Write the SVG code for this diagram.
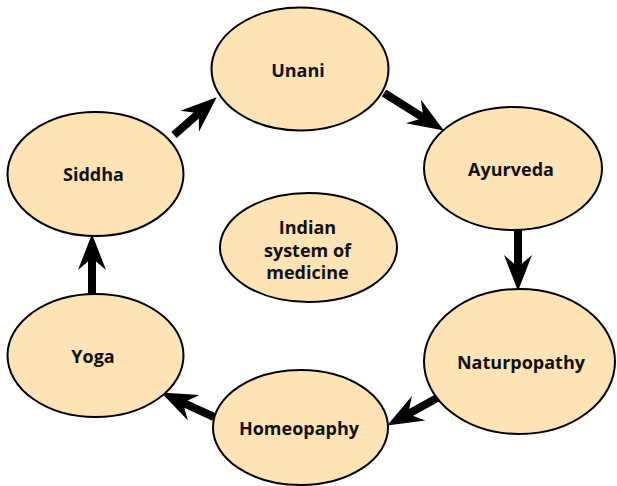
<svg xmlns="http://www.w3.org/2000/svg" width="617" height="486" viewBox="0 0 617 486">
<style>
.node ellipse{fill:#FDE3B5;stroke:#000;stroke-width:2}
.node text{font-family:"Open Sans","Liberation Sans",sans-serif;font-weight:bold;font-size:18px;fill:#111;text-anchor:middle}
.conn line{stroke:#000;stroke-width:8;marker-end:url(#ah)}
</style>
<defs>
<marker id="ah" markerUnits="userSpaceOnUse" viewBox="0 -15 40 30" markerWidth="40" markerHeight="30" refX="14" refY="0" orient="auto">
<path d="M0,-14 L36,0 L0,14 L12,0 Z" fill="#000"/>
</marker>
</defs>
<rect width="617" height="486" fill="#fff"/>
<g id="connectors" class="conn">
<line x1="174" y1="135" x2="200.2" y2="111.9"/>
<line x1="384" y1="93" x2="425.2" y2="118.8"/>
<line x1="518" y1="229" x2="518" y2="269"/>
<line x1="439" y1="397" x2="406.4" y2="414.9"/>
<line x1="214" y1="417" x2="181.1" y2="401.8"/>
<line x1="92" y1="294" x2="92" y2="256"/>
</g>
<g id="unani" class="node"><ellipse cx="300" cy="69" rx="88.5" ry="61.5"/><text x="298" y="77">Unani</text></g>
<g id="ayurveda" class="node"><ellipse cx="513" cy="168.5" rx="89" ry="61.5"/><text x="511" y="176">Ayurveda</text></g>
<g id="naturpopathy" class="node"><ellipse cx="519.5" cy="361.5" rx="95.5" ry="72.5"/><text x="521" y="369">Naturpopathy</text></g>
<g id="homeopaphy" class="node"><ellipse cx="300.5" cy="427.5" rx="87.5" ry="57.5"/><text x="299" y="435">Homeopaphy</text></g>
<g id="yoga" class="node"><ellipse cx="95.5" cy="355.5" rx="88" ry="61.5"/><text x="93" y="363">Yoga</text></g>
<g id="siddha" class="node"><ellipse cx="95.5" cy="174" rx="88" ry="62"/><text x="93.5" y="181">Siddha</text></g>
<g id="center" class="node"><ellipse cx="308.5" cy="247.5" rx="88.5" ry="54.5"/><text x="307.5" y="234">Indian</text><text x="307.5" y="256.5">system of</text><text x="307.5" y="279">medicine</text></g>
</svg>
